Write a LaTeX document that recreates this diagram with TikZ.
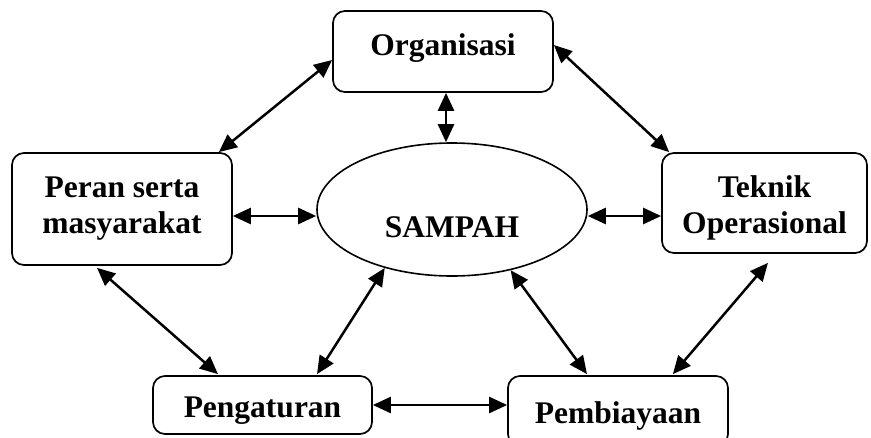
\documentclass[tikz,border=0pt]{standalone}
\usepackage{fontspec}
\setmainfont{Liberation Serif}
\usetikzlibrary{arrows.meta,shapes.geometric}
\tikzset{
  box/.style={draw, line width=1.7pt, rounded corners=12pt, inner sep=0pt},
  oval/.style={draw, ellipse, line width=1.6pt, inner sep=0pt},
  txt/.style={inner sep=0pt, align=center, font=\fontsize{31.5}{36}\selectfont\bfseries},
  link/.style={line width=2.5pt, {Triangle[length=18pt,width=16pt]}-{Triangle[length=18pt,width=16pt]}}
}
\begin{document}
\begin{tikzpicture}[x=1pt,y=-1pt]
\useasboundingbox (0,0) rectangle (871,437);
\clip (0,0) rectangle (871,437);
\node[box, minimum width=220pt, minimum height=81pt] (org) at (443,51.5) {};
\node[box, minimum width=220pt, minimum height=112pt] (peran) at (122,209) {};
\node[box, minimum width=205pt, minimum height=100pt] (teknik) at (764.5,203) {};
\node[oval, minimum width=270pt, minimum height=133pt] (sampah) at (452,209.5) {};
\node[box, minimum width=219pt, minimum height=58pt] (peng) at (262.5,405) {};
\node[box, minimum width=220pt, minimum height=70pt] (pemb) at (618,411) {};

\node[txt] (orgT) at ([yshift=3pt]org.center) {Organisasi};
\node[txt] (peranT) at (peran.center) {Peran serta\\masyarakat};
\node[txt] (teknikT) at ([yshift=-4.6pt]teknik.center) {Teknik\\Operasional};
\node[txt, anchor=base] (sampahT) at ([yshift=-28pt]sampah.center) {SAMPAH};
\node[txt] (pengT) at ([yshift=-5.6pt]peng.center) {Pengaturan};
\node[txt] (pembT) at ([yshift=-5pt]pemb.center) {Pembiayaan};

\draw[link] ([yshift=-8.5pt]org.west) -- ([xshift=-14pt]peran.north east);
\draw[link] ([yshift=6.5pt]org.east) -- ([xshift=8pt]teknik.north west);
\draw[link] ([xshift=3pt]org.south) -- ([xshift=3pt]org.south |- sampah.north);
\draw[link] ([yshift=-7pt]peran.east) -- ([yshift=-7pt]peran.east -| sampah.west);
\draw[link] ([yshift=-13pt]teknik.west) -- ([yshift=-13pt]teknik.west -| sampah.east);
\draw[link] ([xshift=-25pt,yshift=-2pt]peran.south) -- ([xshift=-44.5pt,yshift=1pt]peng.north);
\draw[link] (sampah.221) -- ([xshift=54.5pt,yshift=1pt]peng.north);
\draw[link] (sampah.314) -- ([xshift=-31pt,yshift=1pt]pemb.north);
\draw[link] ([xshift=3.5pt,yshift=-9pt]teknik.south) -- ([xshift=-56pt,yshift=1pt]pemb.north east);
\draw[link] (peng.east) -- (peng.east -| pemb.west);
\end{tikzpicture}
\end{document}
